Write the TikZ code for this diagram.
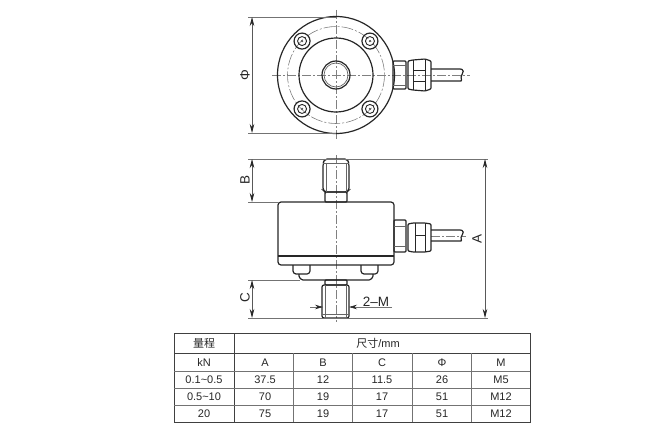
\documentclass[tikz,border=0pt]{standalone}
\usepackage{fontspec}
\setmainfont{Liberation Sans}
\newfontfamily\cjk{Noto Sans CJK SC}
\usetikzlibrary{arrows.meta}
\tikzset{
  part/.style={draw=black!85,line width=1.2pt,rounded corners=1pt},
  thin part/.style={draw=black!60,line width=0.7pt},
  axis/.style={draw=black!50,line width=0.6pt,dash pattern=on 9pt off 2pt on 2pt off 2pt},
  ext/.style={draw=black!55,line width=0.6pt},
  dim/.style={draw=black!65,line width=0.7pt,{Stealth[length=9pt,width=4.5pt,black!85]}-{Stealth[length=9pt,width=4.5pt,black!85]}},
  lab/.style={font=\fontsize{13.5}{14}\selectfont,text=black!85,inner sep=0pt},
  cell/.style={font=\fontsize{11}{11}\selectfont,text=black!85,inner sep=0pt},
  grid/.style={draw=black!55,line width=0.7pt},
}
\begin{document}
\begin{tikzpicture}[x=1pt,y=-1pt]
\useasboundingbox (0,0) rectangle (650,436);
% top view
\coordinate (top) at (336,75);
\draw[axis] (272,75) -- (470,75);
\draw[axis] (336,10) -- (336,139);
\draw[part] (top) circle (58.5);
\draw[part] (top) circle (37);
\draw[part] (top) circle (14);
\draw[thin part] (top) circle (12);
\draw[axis,dash pattern=on 12pt off 2pt on 2pt off 2pt] (top) circle (48.5);
\foreach \ang in {45,135,225,315} {
  \draw[part] (top) ++(\ang:48) circle (8);
  \draw[part,line width=0.9pt] (top) ++(\ang:48) circle (4.5);
  \fill[black!70] (top) ++(\ang:48) circle (1.2);
}
\draw[part] (393,61) rectangle (406,89);
\draw[thin part] (393,65) -- (406,65) (393,85) -- (406,85);
\draw[part] (408,61) -- (413,60) -- (425,59) -- (431,61) -- (431,89) -- (425,91) -- (413,90) -- (408,89) -- cycle;
\draw[part,line width=0.9pt] (413,60) -- (413,90) (425,59) -- (425,91) (413,70) -- (425,70) (413,81) -- (425,81);
\draw[part] (431,69) -- (461,69) .. controls (466,71) and (459,76) .. (462,81) -- (431,81);
% side view
\draw[axis] (336,155) -- (336,322);
\draw[axis] (431,236) -- (466,236);
\draw[part,rounded corners=3pt] (278,202) rectangle (394,265);
\draw[part] (278,256) -- (394,256);
\draw[part] (325,192) rectangle (347,202);
\draw[part,rounded corners=2pt] (324,161) -- (325,159) -- (347,159) -- (348,161) -- (349,164) -- (349,190) -- (347,192) -- (325,192) -- (323,190) -- (323,164) -- cycle;
\draw[thin part] (323,163) -- (349,163) (326,163) -- (326,192) (346,163) -- (346,192);
\draw[part] (394,220) rectangle (406,252);
\draw[thin part] (394,226) -- (406,226) (394,246) -- (406,246);
\draw[part] (408,224) -- (413,223) -- (425,223) -- (431,224) -- (431,251) -- (425,252) -- (413,252) -- (408,251) -- cycle;
\draw[part,line width=0.9pt] (415,223) -- (415,252) (425,223) -- (425,252) (415,235) -- (425,235);
\draw[part] (431,230) -- (461,230) .. controls (466,232) and (459,237) .. (462,241) -- (431,241);
\draw[part] (293,265) -- (293,272) -- (295,274) -- (308,274) -- (310,272) -- (310,265);
\draw[part] (361,265) -- (361,272) -- (363,274) -- (376,274) -- (378,272) -- (378,265);
\draw[part] (299,274) -- (299,277) -- (302,280) -- (370,280) -- (373,277) -- (373,274);
\draw[part] (325,280) rectangle (347,285);
\draw[part,rounded corners=2pt] (322,285) rectangle (349,318);
\draw[thin part] (322,314) -- (349,314) (325,285) -- (325,318) (346,285) -- (346,318);
% dimensions
\draw[ext] (248,17) -- (336,17) (248,133) -- (336,133);
\draw[ext] (248,159) -- (488,159) (248,202) -- (278,202);
\draw[ext] (248,280) -- (300,280) (248,318) -- (488,318);
\draw[dim] (252,17) -- (252,133);
\draw[dim] (252,159) -- (252,202);
\draw[dim] (252,280) -- (252,318);
\draw[dim] (485,159) -- (485,318);
\draw[ext,-{Stealth[length=8pt,width=4.5pt,black!85]}] (310,307) -- (323,307);
\draw[ext,-{Stealth[length=8pt,width=4.5pt,black!85]}] (392,307) -- (349,307);
\node[lab,rotate=90] (phi) at (245,75) {Φ};
\node[lab,rotate=90] (dimb) at (245,180) {B};
\node[lab,rotate=90] (dimc) at (245,298) {C};
\node[lab,rotate=90] (dima) at (477,239) {A};
\node[lab] (dimm) at (376,302) {2–M};
% table
\draw[black!75,line width=1pt] (174,333) rectangle (530,422);
\draw[black!75,line width=1pt] (234,333) -- (234,422) (174,353) -- (530,353);
\foreach \y in {371.5,388,405} \draw[grid] (174,\y) -- (530,\y);
\foreach \x in {293,352,412,471} \draw[grid] (\x,353) -- (\x,422);
\node[cell] (range) at (204,343.5) {\cjk 量程};
\node[cell] (size) at (378,343.5) {\cjk 尺寸\rmfamily/mm};
\foreach \rowy/\a/\b/\c/\d/\e/\f [count=\r] in {
  362.5/kN/A/B/C/Φ/M,
  380/0.1\textasciitilde0.5/37.5/12/11.5/26/M5,
  397/0.5\textasciitilde10/70/19/17/51/M12,
  414/20/75/19/17/51/M12} {
  \node[cell] (r\r-1) at (204,\rowy) {\a};
  \node[cell] (r\r-2) at (265,\rowy) {\b};
  \node[cell] (r\r-3) at (323,\rowy) {\c};
  \node[cell] (r\r-4) at (382,\rowy) {\d};
  \node[cell] (r\r-5) at (442,\rowy) {\e};
  \node[cell] (r\r-6) at (501,\rowy) {\f};
}
\end{tikzpicture}
\end{document}
